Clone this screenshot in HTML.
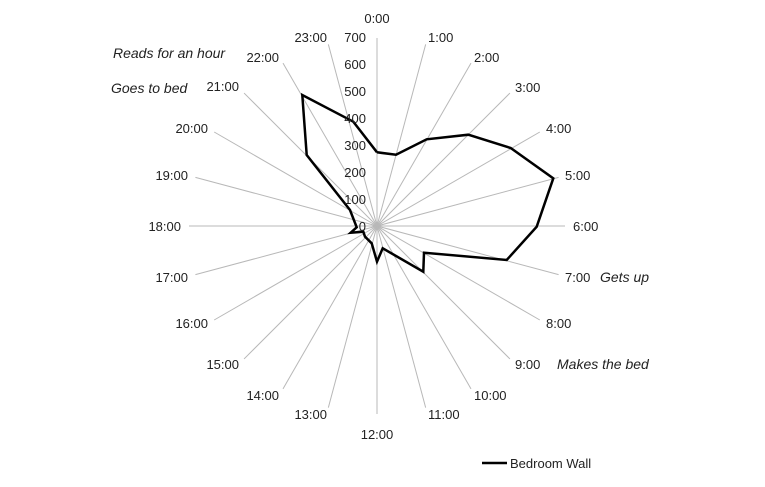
<!DOCTYPE html>
<html><head><meta charset="utf-8"><style>
body{margin:0;background:#fff}
svg text{font-family:"Liberation Sans",sans-serif;font-size:13px;fill:#222}
</style></head><body>
<svg width="765" height="482" xmlns="http://www.w3.org/2000/svg">
<g id="axes" stroke="#b8b8b8" stroke-width="1"></g>
<polyline fill="none" stroke="#000" stroke-width="2.5" stroke-linejoin="miter" points="377,152.3 396,154.7 426.7,139.3 468.3,134.7 510.7,148 553.3,178.3 536.7,226.7 506.7,260 424,252.7 423.3,271.7 382.7,248.3 377,261.7 371.7,243.3 365,236.7 363.3,231.7 350.7,232.7 356.7,227.3 350,210 306.7,155 302.3,95 353.3,121.7 377,152.3"/>
<g text-anchor="end">
<text x="366" y="42">700</text><text x="366" y="69">600</text><text x="366" y="96">500</text><text x="366" y="123">400</text><text x="366" y="150">300</text><text x="366" y="177">200</text><text x="366" y="204">100</text><text x="366" y="231">0</text>
<text x="327" y="42">23:00</text><text x="279" y="62">22:00</text><text x="239" y="91">21:00</text><text x="208" y="133">20:00</text><text x="188" y="180">19:00</text><text x="181" y="231">18:00</text><text x="188" y="282">17:00</text><text x="208" y="328">16:00</text><text x="239" y="369">15:00</text><text x="279" y="400">14:00</text><text x="327" y="419">13:00</text>
</g>
<g text-anchor="middle">
<text x="377" y="23">0:00</text><text x="377" y="439">12:00</text>
</g>
<g>
<text x="428" y="42">1:00</text><text x="474" y="62">2:00</text><text x="515" y="92">3:00</text><text x="546" y="133">4:00</text><text x="565" y="180">5:00</text><text x="573" y="231">6:00</text><text x="565" y="282">7:00</text><text x="546" y="328">8:00</text><text x="515" y="369">9:00</text><text x="474" y="400">10:00</text><text x="428" y="419">11:00</text>
</g>
<text x="113" y="58" style="font-style:italic;font-size:14px">Reads for an hour</text>
<text x="111" y="93" style="font-style:italic;font-size:14px">Goes to bed</text>
<text x="600" y="282" style="font-style:italic;font-size:14px">Gets up</text>
<text x="557" y="369" style="font-style:italic;font-size:14px">Makes the bed</text>
<line x1="482" y1="463" x2="507" y2="463" stroke="#000" stroke-width="2.5"/>
<text x="510" y="468">Bedroom Wall</text>
<script>
var g=document.getElementById('axes'),cx=377,cy=226,R=188;
for(var i=0;i<24;i++){var a=i*Math.PI/12;var l=document.createElementNS('http://www.w3.org/2000/svg','line');
l.setAttribute('x1',cx);l.setAttribute('y1',cy);l.setAttribute('x2',cx+R*Math.sin(a));l.setAttribute('y2',cy-R*Math.cos(a));g.appendChild(l);}
</script>
</svg>
</body></html>
